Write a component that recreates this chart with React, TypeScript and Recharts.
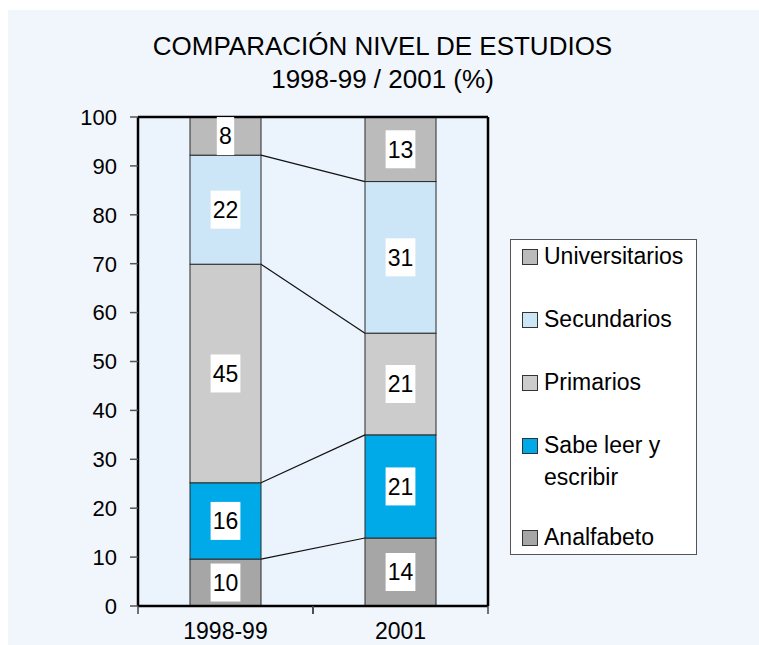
import React from 'react';
import { BarChart, Bar, XAxis, YAxis, CartesianGrid, LabelList, Legend } from 'recharts';

const categories = ['1998-99', '2001'];
const analfabeto = [9.6, 13.9];
const sabeLeer = [15.6, 21.1];
const primarios = [44.7, 20.8];
const secundarios = [22.3, 31.0];
const universitarios = [7.8, 13.2];
const yTicks = [0, 10, 20, 30, 40, 50, 60, 70, 80, 90, 100];

const series = [
  { key: 'analfabeto', name: 'Analfabeto', color: '#A6A6A6', values: analfabeto, lines: ['Analfabeto'] },
  { key: 'sabe', name: 'Sabe leer y escribir', color: '#00AAE8', values: sabeLeer, lines: ['Sabe leer y', 'escribir'] },
  { key: 'primarios', name: 'Primarios', color: '#CCCCCC', values: primarios, lines: ['Primarios'] },
  { key: 'secundarios', name: 'Secundarios', color: '#CCE6F8', values: secundarios, lines: ['Secundarios'] },
  { key: 'universitarios', name: 'Universitarios', color: '#BBBBBB', values: universitarios, lines: ['Universitarios'] },
];

const data = categories.map((c, i) => {
  const row: any = { name: c };
  series.forEach((s) => { row[s.key] = s.values[i]; });
  return row;
});

const FONT = '"Liberation Sans", Arial, Helvetica, sans-serif';
const W = 751;
const H = 635;
const MARGIN = { top: 106, right: 270, bottom: 0, left: 70 };
const Y_W = 60;
const HALF_BAND = (W - MARGIN.left - Y_W - MARGIN.right - 1) / categories.length / 2;

const geom: Record<string, any[]> = {};

const makeShape = (key: string, drawLine: boolean) => (p: any) => {
  const { x, y, width, height, fill, index } = p;
  if (!geom[key]) geom[key] = [];
  geom[key][index] = { x, y, width };
  const prev = index > 0 ? geom[key][index - 1] : null;
  return (
    <g>
      <rect x={x} y={y} width={width} height={height} fill={fill} stroke="#2a2a2a" strokeWidth={1} />
      {drawLine && prev && (
        <line x1={prev.x + prev.width} y1={prev.y} x2={x} y2={y} stroke="#111" strokeWidth={1.2} />
      )}
    </g>
  );
};

const SegLabel = (p: any) => {
  const { x, y, width, height, value } = p;
  const txt = String(Math.round(Number(value)));
  const bw = txt.length * 12.4 + 5;
  const bh = 38;
  const cx = x + width / 2;
  const cy = y + height / 2;
  return (
    <g>
      <rect x={cx - bw / 2} y={cy - bh / 2} width={bw} height={bh} fill="#FFFFFF" />
      <text x={cx} y={cy} dy="0.36em" textAnchor="middle" fontFamily={FONT} fontSize={23} fill="#000">
        {txt}
      </text>
    </g>
  );
};

const XTick = (p: any) => {
  const { x, y, payload } = p;
  const axisY = y - 16;
  return (
    <g>
      <line x1={x - HALF_BAND} y1={axisY} x2={x - HALF_BAND} y2={axisY + 8} stroke="#444" strokeWidth={1.5} />
      <line x1={x + HALF_BAND} y1={axisY} x2={x + HALF_BAND} y2={axisY + 8} stroke="#444" strokeWidth={1.5} />
      <text x={x} y={y} dy="0.75em" textAnchor="middle" fontFamily={FONT} fontSize={23} fill="#000">
        {payload.value}
      </text>
    </g>
  );
};

const LegendBox = () => {
  const items = [...series].reverse();
  return (
    <div
      style={{
        width: 187,
        height: 316,
        boxSizing: 'border-box',
        background: '#FFFFFF',
        border: '1px solid #555',
        fontFamily: FONT,
        fontSize: 23,
        color: '#000',
        paddingLeft: 11,
      }}
    >
      {items.map((s, i) => (
        <div key={s.key} style={{ display: 'flex', alignItems: 'flex-start', marginTop: i === 0 ? 0 : i === 4 ? 28 : 31 }}>
          <div
            style={{
              width: 14,
              height: 14,
              marginTop: 9,
              background: s.color,
              border: '1px solid #333',
              flex: '0 0 auto',
            }}
          />
          <div style={{ marginLeft: 6, lineHeight: '32px' }}>
            {s.lines.map((l) => (
              <div key={l} style={{ whiteSpace: 'nowrap' }}>{l}</div>
            ))}
          </div>
        </div>
      ))}
    </div>
  );
}

export default function App() {
  return (
    <div style={{ position: 'absolute', left: 8, top: 10, width: W, height: H, background: '#F1F6FD' }}>
      <div
        style={{
          position: 'absolute',
          left: 0,
          top: 20,
          width: W - 2,
          textAlign: 'center',
          fontFamily: FONT,
          fontSize: 26,
          lineHeight: '33px',
          color: '#000',
        }}
      >
        <div>COMPARACIÓN NIVEL DE ESTUDIOS</div>
        <div>1998-99 / 2001 (%)</div>
      </div>
      <div style={{ position: 'absolute', left: 0, top: 0 }}>
        <BarChart width={W} height={H} data={data} margin={MARGIN}>
          <CartesianGrid fill="#EBF3FC" stroke="none" horizontal={false} vertical={false} />
          <XAxis
            dataKey="name"
            height={39}
            axisLine={{ stroke: '#000', strokeWidth: 2.5 }}
            tickLine={{ stroke: 'none' }}
            tickSize={8}
            tickMargin={8}
            tick={<XTick />}
            interval={0}
          />
          <XAxis
            xAxisId="top"
            dataKey="name"
            orientation="top"
            height={1}
            tick={false}
            tickLine={false}
            axisLine={{ stroke: '#000', strokeWidth: 2.5 }}
          />
          <YAxis
            width={Y_W}
            domain={[0, 100]}
            ticks={yTicks}
            interval={0}
            tickSize={8}
            tickMargin={13}
            axisLine={{ stroke: '#000', strokeWidth: 2.5 }}
            tickLine={{ stroke: '#555', strokeWidth: 1.5 }}
            tick={{ fontFamily: FONT, fontSize: 22, fill: '#000' }}
          />
          <YAxis
            yAxisId="r"
            orientation="right"
            width={1}
            domain={[0, 100]}
            tick={false}
            tickLine={false}
            axisLine={{ stroke: '#000', strokeWidth: 2.5 }}
          />
          {series.map((s, si) => (
            <Bar
              key={s.key}
              dataKey={s.key}
              name={s.name}
              stackId="a"
              fill={s.color}
              barSize={71}
              isAnimationActive={false}
              shape={makeShape(s.key, si < series.length - 1)}
            >
              <LabelList dataKey={s.key} content={<SegLabel />} />
            </Bar>
          ))}
          <Legend
            layout="vertical"
            align="center"
            verticalAlign="middle"
            width={187}
            height={316}
            wrapperStyle={{ left: 502, top: 229, width: 187, height: 316 }}
            content={() => <LegendBox />}
          />
        </BarChart>
      </div>
    </div>
  );
}
